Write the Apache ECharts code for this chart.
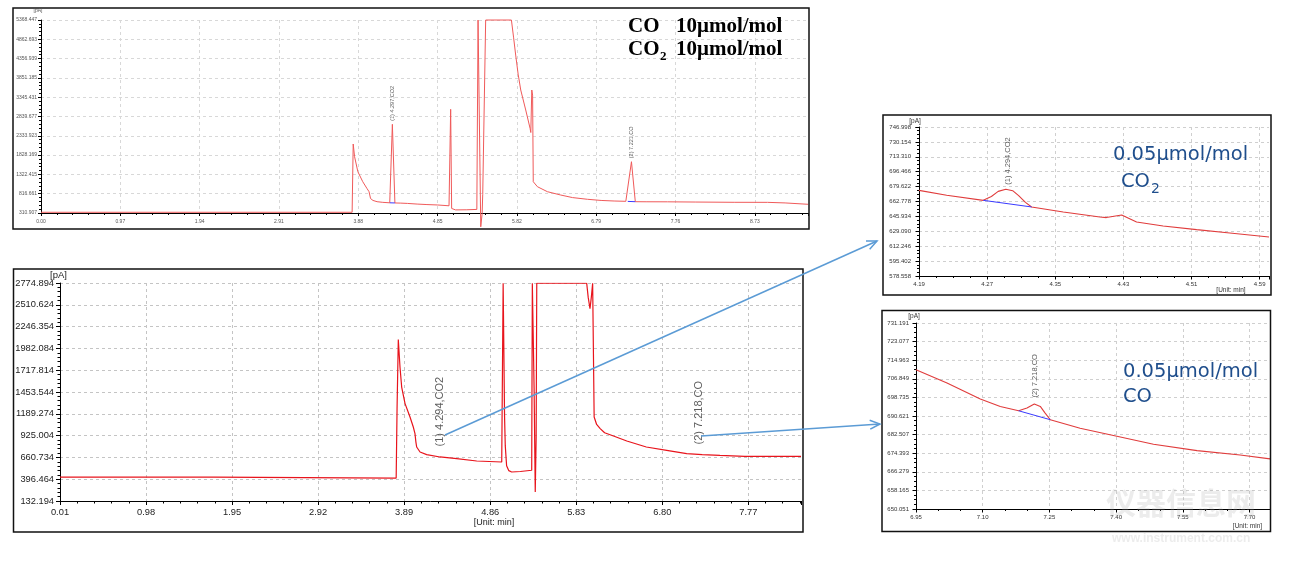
<!DOCTYPE html>
<html><head><meta charset="utf-8">
<script src="https://cdn.jsdelivr.net/npm/echarts@6/dist/echarts.min.js"></script>
<style>html,body{margin:0;padding:0;background:#fff;}#c{width:1294px;height:563px;}</style>
</head><body><div id="c"></div>
<script>
// ---------- tick labels ----------
const topXTicks = ['0.00','0.97','1.94','2.91','3.88','4.85','5.82','6.79','7.76','8.73'];
const topYTicks = ['310.907','816.661','1322.415','1828.169','2333.923','2839.677','3345.431','3851.185','4356.939','4862.693','5368.447'];
const mainXTicks = ['0.01','0.98','1.95','2.92','3.89','4.86','5.83','6.80','7.77'];
const mainYTicks = ['132.194','396.464','660.734','925.004','1189.274','1453.544','1717.814','1982.084','2246.354','2510.624','2774.894'];
const co2XTicks = ['4.19','4.27','4.35','4.43','4.51','4.59'];
const co2YTicks = ['578.558','595.402','612.246','629.090','645.934','662.778','679.622','696.466','713.310','730.154','746.998'];
const coXTicks = ['6.95','7.10','7.25','7.40','7.55','7.70'];
const coYTicks = ['650.051','658.165','666.279','674.393','682.507','690.621','698.735','706.849','714.963','723.077','731.191'];
// axis right ends (min)
const topXMax = 9.38, mainXMax = 8.364, co2XMax = 4.601, coXMax = 7.746;

// ---------- signals [time(min), pA] ----------
const topSignal = [[0.00,330],[3.805,330],[3.818,2119],[3.835,1786],[3.875,1393],[3.935,1131],[3.985,958],[4.012,869],[4.030,690],[4.060,640],[4.110,607],[4.180,590],[4.265,578],[4.297,2635],[4.328,574],[4.400,570],[4.480,562],[4.600,545],[4.720,532],[4.850,521],[4.990,500],[5.000,494],[5.010,3028],[5.022,430],[5.040,405],[5.070,392],[5.200,395],[5.330,405],[5.338,408],[5.345,5368],[5.362,5368],[5.378,-50],[5.395,300],[5.402,800],[5.438,5368],[5.753,5368],[5.780,4900],[5.805,4450],[5.835,3950],[5.867,3534],[5.928,3010],[5.981,2530],[5.990,2420],[6.002,3534],[6.012,3400],[6.020,1131],[6.071,1000],[6.193,869],[6.356,782],[6.500,715],[6.683,670],[6.850,640],[7.009,625],[7.152,617],[7.176,615],[7.221,1655],[7.268,607],[7.400,605],[7.662,604],[8.000,598],[8.477,591],[8.886,590],[9.100,575],[9.380,539]];
const topCO2Base = [[4.265,578],[4.328,574]];
const topCOBase = [[7.176,615],[7.268,607]];
const topPeaks = [[4.297,2635,'(1) 4.297,CO2'],[7.221,1655,'(2) 7.221,CO']];

const mainSignal = [[0.01,422],[1.744,422],[1.750,410],[3.800,410],[3.806,410],[3.810,1252],[3.824,2090],[3.843,1757],[3.862,1514],[3.900,1313],[3.956,1150],[3.993,1029],[4.012,949],[4.022,850],[4.031,787],[4.069,726],[4.144,695],[4.294,666],[4.482,646],[4.708,617],[4.990,605],[5.000,605],[5.006,2772],[5.016,2772],[5.022,1150],[5.030,800],[5.045,560],[5.070,500],[5.102,484],[5.200,490],[5.328,505],[5.335,2772],[5.348,2772],[5.355,1500],[5.368,241],[5.378,900],[5.385,2772],[5.429,2772],[5.948,2772],[5.965,2600],[5.985,2464],[6.000,2600],[6.015,2772],[6.028,2772],[6.032,1150],[6.060,1060],[6.100,1010],[6.150,960],[6.250,920],[6.400,860],[6.620,787],[6.850,747],[7.075,707],[7.250,695],[7.450,686],[7.730,674],[8.364,672]];
const mainPeaks = [[4.294,666,'(1) 4.294,CO2'],[7.218,690,'(2) 7.218,CO']];

const co2Signal = [[4.190,675.4],[4.2225,669.8],[4.2655,664.1],[4.275,668.5],[4.283,674.2],[4.292,676.6],[4.300,675.0],[4.307,669.5],[4.315,661.8],[4.3222,656.6],[4.3594,650.9],[4.4024,645.3],[4.410,644.6],[4.428,647.5],[4.4455,639.6],[4.4767,635.1],[4.516,631.0],[4.555,627.2],[4.601,622.6]];
const co2Base = [[4.2655,664.1],[4.3222,656.6]];
const co2Peaks = [[4.294,676.6,'(1) 4.294,CO2']];

const coSignal = [[6.950,710.8],[7.0197,705.0],[7.0946,698.0],[7.1395,694.8],[7.1807,692.9],[7.1995,694.1],[7.216,695.9],[7.2295,694.8],[7.240,692.0],[7.252,689.0],[7.319,685.3],[7.394,682.1],[7.484,678.3],[7.582,675.5],[7.679,673.6],[7.746,671.9]];
const coBase = [[7.1807,692.9],[7.252,689.0]];
const coPeaks = [[7.218,695.9,'(2) 7.218,CO']];

// ---------- build ----------
const FONT = 'Liberation Sans, Arial, sans-serif';
const panels = [
  {xt:topXTicks, yt:topYTicks, xMax:topXMax, grid:{left:41,top:20,width:767,height:193}, sig:topSignal, bases:[topCO2Base,topCOBase], peaks:topPeaks,
   fs:5, lc:'#555', xm:6, ym:4, color:'#f05a5a', lw:1, pfs:5.5, pd:3, clip:false, xMinor:5, yMinor:5, tick:3, minor:2, split:'#d8d8d8'},
  {xt:mainXTicks, yt:mainYTicks, xMax:mainXMax, grid:{left:60,top:283,width:741,height:218}, sig:mainSignal, bases:[], peaks:mainPeaks,
   fs:9.3, lc:'#222', xm:7, ym:6, color:'#e8141c', lw:1.2, pfs:11, pd:10, clip:true, xMinor:5, yMinor:5, tick:4, minor:2.5, split:'#c4c4c4'},
  {xt:co2XTicks, yt:co2YTicks, xMax:co2XMax, grid:{left:919,top:127,width:350,height:149}, sig:co2Signal, bases:[co2Base], peaks:co2Peaks,
   fs:6, lc:'#333', xm:5, ym:8, color:'#e03c3c', lw:1.1, pfs:7.5, pd:4, clip:true, xMinor:4, yMinor:4, tick:3.5, minor:2, split:'#cfcfcf'},
  {xt:coXTicks, yt:coYTicks, xMax:coXMax, grid:{left:916,top:323,width:354,height:186}, sig:coSignal, bases:[coBase], peaks:coPeaks,
   fs:6, lc:'#333', xm:5, ym:7, color:'#e03c3c', lw:1.1, pfs:7.5, pd:6, clip:true, xMinor:3, yMinor:4, tick:3.5, minor:2, split:'#cfcfcf'}
];

function axis(ticks, maxVal, gi, isX, p) {
  const t0 = parseFloat(ticks[0]);
  const step = (parseFloat(ticks[ticks.length-1]) - t0) / (ticks.length - 1);
  const max = isX ? (maxVal - t0) : step * (ticks.length - 1);
  return {
    type:'value', gridIndex:gi, min:0, max:max, interval:step,
    axisLine:{show:true, onZero:false, lineStyle:{color:'#000', width:1}},
    axisTick:{show:true, length:p.tick, lineStyle:{color:'#000'}},
    minorTick:{show:true, splitNumber:isX ? p.xMinor : p.yMinor, length:p.minor, lineStyle:{color:'#000'}},
    splitLine:{show:true, showMaxLine:!isX, lineStyle:{color:p.split, type:[3,3], width:1}},
    axisLabel:{fontSize:p.fs, color:p.lc, fontFamily:FONT, margin:isX ? p.xm : p.ym,
      showMinLabel:true, showMaxLabel:true, hideOverlap:false,
      formatter:v => { const k = v/step, r = Math.round(k); return (Math.abs(k-r) < 1e-3 && r >= 0 && r < ticks.length) ? ticks[r] : ''; }}
  };
}

const grids = [], xAxes = [], yAxes = [], series = [];
panels.forEach((p, i) => {
  const x0 = parseFloat(p.xt[0]), y0 = parseFloat(p.yt[0]);
  grids.push(Object.assign({containLabel:false}, p.grid));
  xAxes.push(axis(p.xt, p.xMax, i, true, p));
  yAxes.push(axis(p.yt, null, i, false, p));
  const sh = d => d.map(([x,y]) => [x - x0, y - y0]);
  series.push({type:'line', xAxisIndex:i, yAxisIndex:i, data:sh(p.sig), symbol:'none', clip:p.clip,
    lineStyle:{color:p.color, width:p.lw}, z:3, silent:true});
  p.bases.forEach(b => series.push({type:'line', xAxisIndex:i, yAxisIndex:i, data:sh(b), symbol:'none',
    lineStyle:{color:'#3a3aff', width:1}, z:4, silent:true}));
  series.push({type:'scatter', xAxisIndex:i, yAxisIndex:i, symbolSize:1, itemStyle:{color:'rgba(0,0,0,0)'}, silent:true, z:5,
    data:p.peaks.map(q => ({value:[q[0]-x0, q[1]-y0], name:q[2]})),
    label:{show:true, position:'top', distance:p.pd, rotate:90, align:'left', verticalAlign:'middle',
      formatter:o => o.name, fontSize:p.pfs, color:'#333', fontFamily:FONT}});
});

function rect(x, y, w, h) {
  return {type:'rect', shape:{x:x, y:y, width:w, height:h}, style:{fill:'none', stroke:'#111', lineWidth:1.5}, z:50};
}
function txt(s, x, y, fs, opt) {
  return {type:'text', x:x, y:y, z:60, style:Object.assign({text:s, fontSize:fs, fontFamily:FONT, fill:'#333', align:'center', verticalAlign:'middle'}, opt || {})};
}
function arrow(x1, y1, x2, y2) {
  const c = '#5b9bd5', ang = Math.atan2(y2 - y1, x2 - x1), L = 11, a = 0.42;
  return [
    {type:'line', z:70, shape:{x1:x1, y1:y1, x2:x2, y2:y2}, style:{stroke:c, lineWidth:1.5}},
    {type:'polyline', z:70, shape:{points:[[x2 - L*Math.cos(ang - a), y2 - L*Math.sin(ang - a)], [x2, y2], [x2 - L*Math.cos(ang + a), y2 - L*Math.sin(ang + a)]]},
      style:{stroke:c, lineWidth:1.5, fill:'none'}}
  ];
}
const SERIF = 'Liberation Serif, Times New Roman, serif';
const BLUE = '#1f4e8c';
const graphic = [
  rect(13, 8, 796, 221), rect(13.5, 269, 789.5, 263), rect(883, 115, 388, 180), rect(882, 310.5, 388.5, 221),
  // unit labels
  txt('[pA]', 38, 11, 5, {fill:'#555'}),
  txt('[pA]', 58.5, 275, 9.5, {fill:'#222'}),
  txt('[Unit: min]', 494, 522.5, 9, {fill:'#222'}),
  txt('[pA]', 915, 121, 6.5),
  txt('[Unit: min]', 1231, 290.5, 6.5),
  txt('[pA]', 914, 316.5, 6.5),
  txt('[Unit: min]', 1247.5, 526, 6.5),
  // concentration notes
  txt('CO', 628, 27, 21, {fontFamily:SERIF, fontWeight:'bold', fill:'#000', align:'left'}),
  txt('10μmol/mol', 676, 27, 21, {fontFamily:SERIF, fontWeight:'bold', fill:'#000', align:'left'}),
  txt('CO', 628, 50, 21, {fontFamily:SERIF, fontWeight:'bold', fill:'#000', align:'left'}),
  txt('2', 660, 57, 13, {fontFamily:SERIF, fontWeight:'bold', fill:'#000', align:'left'}),
  txt('10μmol/mol', 676, 50, 21, {fontFamily:SERIF, fontWeight:'bold', fill:'#000', align:'left'}),
  txt('0.05μmol/mol', 1113, 155, 19.5, {fontFamily:'DejaVu Sans', fill:BLUE, align:'left'}),
  txt('CO', 1121, 181.5, 19.5, {fontFamily:'DejaVu Sans', fill:BLUE, align:'left'}),
  txt('2', 1151, 189, 14, {fontFamily:'DejaVu Sans', fill:BLUE, align:'left'}),
  txt('0.05μmol/mol', 1123, 371.5, 19.5, {fontFamily:'DejaVu Sans', fill:BLUE, align:'left'}),
  txt('CO', 1123, 396.5, 19.5, {fontFamily:'DejaVu Sans', fill:BLUE, align:'left'}),
  // watermark
  txt('仪器信息网', 1106, 503, 30, {fontFamily:'Noto Sans CJK SC', fontWeight:'bold', fill:'rgba(170,170,170,0.22)', align:'left'}),
  txt('www.instrument.com.cn', 1112, 539, 12, {fontWeight:'bold', fill:'rgba(170,170,170,0.22)', align:'left'})
].concat(arrow(445, 435, 877, 241), arrow(701, 436, 880, 424));

const chart = echarts.init(document.getElementById('c'), null, {renderer:'canvas'});
chart.setOption({
  animation:false, backgroundColor:'#fff',
  grid:grids, xAxis:xAxes, yAxis:yAxes, series:series, graphic:graphic
});
</script></body></html>
